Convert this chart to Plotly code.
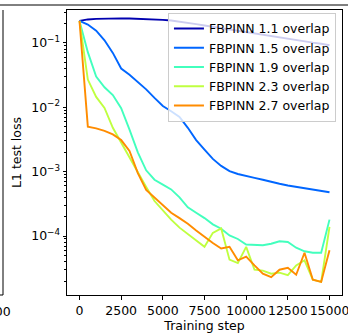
import plotly.graph_objects as go

steps = list(range(0, 15001, 500))

loss_11 = [0.22, 0.232, 0.237, 0.24, 0.241, 0.241, 0.24, 0.238, 0.235, 0.232, 0.228, 0.223,
           0.215, 0.205, 0.196, 0.187, 0.178, 0.170, 0.162, 0.155, 0.148, 0.141, 0.134, 0.128,
           0.122, 0.117, 0.111, 0.106, 0.101, 0.097, 0.092]
loss_15 = [0.22, 0.193, 0.155, 0.11, 0.07, 0.04, 0.032, 0.025, 0.019, 0.014, 0.0105, 0.0087,
           0.0071, 0.0048, 0.0031, 0.0022, 0.00158, 0.00123, 0.00102, 0.00092, 0.00085, 0.0008,
           0.00075, 0.00069, 0.00065, 0.00061, 0.00058, 0.00055, 0.00052, 0.0005, 0.00048]
loss_19 = [0.22, 0.072, 0.030, 0.0205, 0.0155, 0.0097, 0.0045, 0.0020, 0.00105, 0.00075, 0.00063,
           0.00053, 0.00040, 0.00028, 0.00023, 0.00019, 0.000152, 0.00013, 0.000102, 0.00009,
           0.000074, 0.000073, 0.000072, 0.000076, 0.000083, 0.000081, 0.000066, 0.000058,
           0.000055, 0.000055, 0.00018]
loss_23 = [0.22, 0.027, 0.0145, 0.0098, 0.0048, 0.0028, 0.0017, 0.0010, 0.00058, 0.00035, 0.00025,
           0.00018, 0.000135, 0.000108, 0.000085, 0.000068, 0.000112, 0.000131, 0.000043, 0.000038,
           0.000068, 0.00003, 0.000029, 0.000026, 0.000027, 0.0000247, 0.000035, 0.000042,
           0.000021, 0.0000194, 0.000139]
loss_27 = [0.22, 0.005, 0.0047, 0.0043, 0.0038, 0.0031, 0.0021, 0.00095, 0.00052, 0.0004, 0.0003,
           0.00023, 0.00019, 0.000155, 0.000122, 0.000097, 0.000078, 0.000064, 0.000068, 0.000042,
           0.000048, 0.000035, 0.000026, 0.000023, 0.00003, 0.000032, 0.000025, 0.000055,
           0.000021, 0.0000194, 0.00006]

names = ["FBPINN 1.1 overlap", "FBPINN 1.5 overlap", "FBPINN 1.9 overlap",
         "FBPINN 2.3 overlap", "FBPINN 2.7 overlap"]
colors = ["#0000b0", "#0066ff", "#42ffbd", "#bfff40", "#ff8c00"]
series = [loss_11, loss_15, loss_19, loss_23, loss_27]

x_ticks = [0, 2500, 5000, 7500, 10000, 12500, 15000]
x_ticktext = ["0", "2500", "5000", "7500", "10000", "12500", "15000"]
y_ticks = [1e-4, 1e-3, 1e-2, 1e-1]
y_ticktext = ["10<sup>−4</sup>", "10<sup>−3</sup>", "10<sup>−2</sup>", "10<sup>−1</sup>"]

FONT = "DejaVu Sans"
FS = 12.5

fig = go.Figure()
for name, col, ys in zip(names, colors, series):
    fig.add_trace(go.Scatter(x=steps, y=ys, mode="lines", name=name,
                             line=dict(color=col, width=1.9)))

minor_vals = []
for e in range(-5, 0):
    for m in range(2, 10):
        minor_vals.append(m * 10 ** e)

fig.update_layout(
    width=348, height=334,
    margin=dict(l=67, r=6, t=10, b=39),
    paper_bgcolor="white", plot_bgcolor="white",
    font=dict(family=FONT, size=FS, color="black"),
    showlegend=True,
    legend=dict(x=0.978, y=0.99, xanchor="right", yanchor="top",
                bgcolor="rgba(255,255,255,0.8)", bordercolor="#cccccc", borderwidth=1,
                font=dict(family=FONT, size=FS, color="black"), itemwidth=30,
                tracegroupgap=0),
    xaxis=dict(range=[-750, 15750], tickvals=x_ticks, ticktext=x_ticktext, ticks="outside",
               ticklen=3.5, tickwidth=1, tickcolor="black", showline=True, linecolor="black",
               linewidth=1, mirror=True, showgrid=False, zeroline=False, automargin=False,
               tickangle=0, ticklabeloverflow="allow",
               title=dict(text="Training step", font=dict(family=FONT, size=FS), standoff=2)),
    yaxis=dict(type="log", range=[-4.916, -0.488], tickvals=y_ticks, ticktext=y_ticktext,
               ticks="outside", ticklen=3.5, tickwidth=1, tickcolor="black",
               minor=dict(tickvals=minor_vals, ticks="outside", ticklen=2, tickwidth=0.8,
                          tickcolor="black", showgrid=False),
               showline=True, linecolor="black", linewidth=1, mirror=True,
               showgrid=False, zeroline=False, automargin=False,
               title=dict(text="L1 test loss", font=dict(family=FONT, size=FS), standoff=6)),
)

# neighbouring panels (cropped) and top border
fig.add_shape(type="line", xref="paper", yref="paper", x0=-0.2327, x1=-0.2327, y0=0, y1=1,
              line=dict(color="black", width=1))
fig.add_shape(type="line", xref="paper", yref="paper", x0=-0.25, x1=-0.2327, y0=0, y1=0,
              line=dict(color="black", width=1))
fig.add_shape(type="line", xref="paper", yref="paper", x0=-0.25, x1=1.03, y0=1.0175, y1=1.0175,
              line=dict(color="black", width=1))
fig.add_annotation(text="15000", xref="paper", yref="paper", x=-0.276, y=-0.025,
                   xanchor="center", yanchor="top", showarrow=False,
                   font=dict(family=FONT, size=FS, color="black"))

fig.write_html("out.html", config={"displayModeBar": False},
               post_script="document.body.style.margin='0';")
